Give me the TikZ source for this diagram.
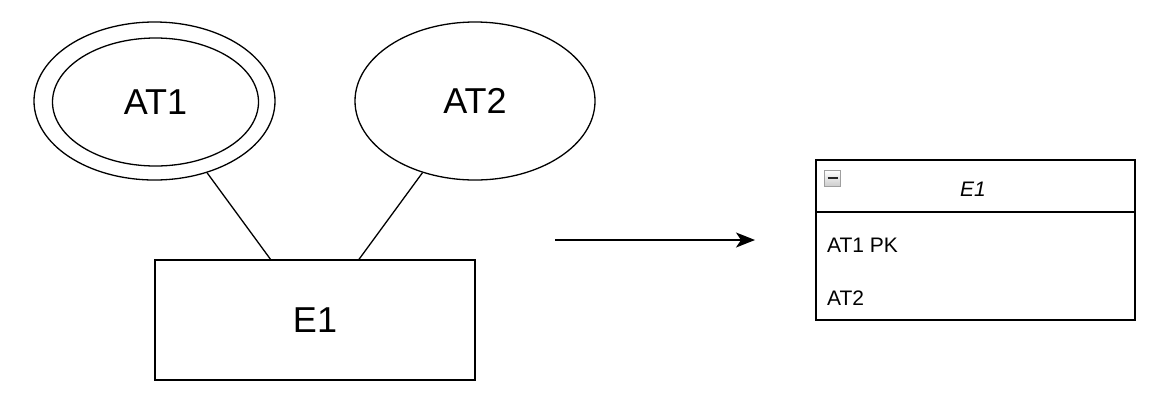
\documentclass[tikz,border=0pt]{standalone}
\usepackage{fontspec}
\setmainfont{Liberation Sans}
\usetikzlibrary{shapes.geometric,arrows.meta,calc}
\begin{document}
\begin{tikzpicture}[x=1pt,y=-1pt,
  ell/.style={draw,ellipse,line width=1.3pt},
  big/.style={font=\fontsize{36}{40}\selectfont},
  small/.style={font=\fontsize{21}{24}\selectfont},
  edge/.style={draw,line width=1.3pt}]
\useasboundingbox (0,0) rectangle (1166,400);
% AT1 double ellipse
\node[ell,minimum width=241pt,minimum height=158pt,inner sep=0pt] (at1o) at (154.5,101) {};
\node[ell,minimum width=206pt,minimum height=128pt,inner sep=0pt,big] (at1) at (155.5,102) {AT1};
% AT2
\node[ell,minimum width=240pt,minimum height=158pt,inner sep=0pt,big] (at2) at (475,101) {AT2};
% E1
\node[draw,line width=1.3pt,minimum width=320pt,minimum height=120pt,inner sep=0pt,big] (e1) at (315,320) {E1};
\coordinate (l1b) at (271,260);
\coordinate (l2b) at (358.5,260);
\draw[edge] (at1o) -- (l1b);
\draw[edge] (at2) -- (l2b);
% arrow
\coordinate (aa) at (555,240);
\coordinate (ab) at (755,240);
\draw[line width=1.3pt,-{Stealth[length=19pt,width=15pt,inset=5pt]}] (aa) -- (ab);
% table
\node[draw,line width=1.5pt,minimum width=319pt,minimum height=160pt,inner sep=0pt] (tbl) at (975.5,240) {};
\coordinate (hl) at (816,212);
\coordinate (hr) at (1135,212);
\draw[line width=1.3pt] (hl) -- (hr);
\node[font=\fontsize{21}{24}\selectfont\itshape,anchor=base,inner sep=0pt] (th) at (973,196.5) {E1};
\node[small,anchor=base west,inner sep=0pt] (r1) at (827,252) {AT1 PK};
\node[small,anchor=base west,inner sep=0pt] (r2) at (827,305) {AT2};
\node[draw=gray!75,line width=1pt,top color=white,bottom color=gray!40,minimum size=16pt,inner sep=0pt] (icon) at (832.5,178.5) {};
\draw[line width=2pt,black!85] ($(icon.west)+(3.5,-0.5)$) -- ($(icon.east)+(-3.5,-0.5)$);
\end{tikzpicture}
\end{document}
